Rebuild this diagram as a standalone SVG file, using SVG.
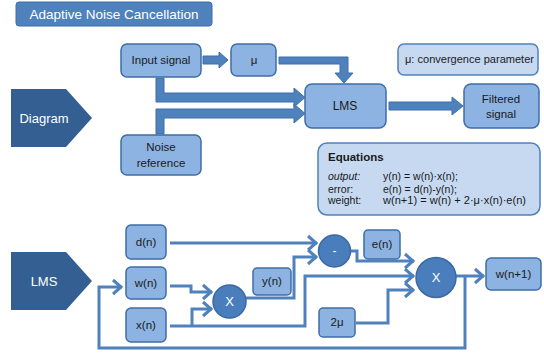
<svg xmlns="http://www.w3.org/2000/svg" width="544" height="356" viewBox="0 0 544 356">
<defs>
<style>
text{font-family:"Liberation Sans",Arial,sans-serif;fill:#1a1a1a}
.box{fill:#8db3e2;stroke:#3f6ea6;stroke-width:1.5}
.light{fill:#c6d9f1;stroke:#4f81bd;stroke-width:1.5}
.pent{fill:#335f92}
.circ{fill:#4a7dbb;stroke:#3a69a3;stroke-width:1.5}
.barrow{fill:#4f81bd;stroke:#3d6ea8;stroke-width:1}
.wire{fill:none;stroke:#4f81bd;stroke-width:3}
.w{fill:#fff}
.c{text-anchor:middle}
.eq{font-size:10.5px}
</style>
<marker id="chev" markerUnits="userSpaceOnUse" markerWidth="14" markerHeight="18" refX="11" refY="9" orient="auto">
<path d="M2,2 L10,9 L2,16" fill="none" stroke="#4f81bd" stroke-width="3"/>
</marker>
</defs>
<rect width="544" height="356" fill="#fff"/>

<g id="title">
<rect x="16" y="2" width="196" height="24" rx="3" fill="#4f81bd" stroke="#3d6ea8"/>
<text x="114" y="19" class="c w" font-size="13.5">Adaptive Noise Cancellation</text>
</g>

<g id="connectors-top">
<polygon class="barrow" points="203,56 219,56 219,52 228,60 219,68 219,64 203,64"/>
<polygon class="barrow" points="279,57 348,57 348,73 353,73 344,83 335,73 340,73 340,64 279,64"/>
<polygon class="barrow" points="156,78 164,78 164,93 294,93 294,88 305,97.5 294,107 294,102 156,102"/>
<polygon class="barrow" points="156,134 156,109 294,109 294,104 305,113.5 294,123 294,118 164,118 164,134"/>
<polygon class="barrow" points="389,102 452,102 452,97 463,106 452,115 452,110 389,110"/>
</g>

<g id="diagram-label">
<polygon class="pent" points="11,89 66,89 92,118 66,147 11,147"/>
<text x="44" y="123" class="c w" font-size="13">Diagram</text>
</g>
<g id="input-signal">
<rect class="box" x="121" y="44" width="80" height="33" rx="6"/>
<text x="161" y="64" class="c" font-size="11.5">Input signal</text>
</g>
<g id="mu">
<rect class="box" x="231" y="44" width="45" height="32" rx="6"/>
<text x="254" y="64" class="c" font-size="11.5">μ</text>
</g>
<g id="noise-reference">
<rect class="box" x="121" y="135" width="80" height="40" rx="6"/>
<text x="161" y="151" class="c" font-size="11.5">Noise</text>
<text x="161" y="167" class="c" font-size="11.5">reference</text>
</g>
<g id="lms-top">
<rect class="box" x="305" y="84" width="81" height="44" rx="7"/>
<text x="345" y="110" class="c" font-size="12">LMS</text>
</g>
<g id="filtered-signal">
<rect class="box" x="464" y="84" width="75" height="44" rx="7"/>
<text x="501" y="103" class="c" font-size="11.5">Filtered</text>
<text x="501" y="118" class="c" font-size="11.5">signal</text>
</g>
<g id="mu-note">
<rect class="light" x="398" y="44" width="140" height="31" rx="6"/>
<text x="405" y="63" font-size="10.5" textLength="129" lengthAdjust="spacingAndGlyphs">μ: convergence parameter</text>
</g>
<g id="equations">
<rect class="light" x="318" y="143" width="222" height="72" rx="9"/>
<text x="328" y="161" font-size="11.5" font-weight="bold">Equations</text>
<text x="328" y="180" class="eq" font-style="italic">output:</text>
<text x="383" y="180" class="eq">y(n) = w(n)·x(n);</text>
<text x="328" y="193" class="eq">error:</text>
<text x="383" y="193" class="eq">e(n) = d(n)-y(n);</text>
<text x="328" y="204" class="eq">weight:</text>
<text x="383" y="204" class="eq" textLength="143" lengthAdjust="spacingAndGlyphs">w(n+1) = w(n) + 2·μ·x(n)·e(n)</text>
</g>

<g id="connectors-lms">
<path class="wire" d="M170,243 H317" marker-end="url(#chev)"/>
<path class="wire" d="M170,286 H191 V292 H212" marker-end="url(#chev)"/>
<path class="wire" d="M170,326 H305 V276 H414" marker-end="url(#chev)"/>
<path class="wire" d="M192,326 V309 H212" marker-end="url(#chev)"/>
<path class="wire" d="M246,298 H294 V257 H317" marker-end="url(#chev)"/>
<path class="wire" d="M351,251 H357 V261 H414" marker-end="url(#chev)"/>
<path class="wire" d="M356,323 H388 V290 H414" marker-end="url(#chev)"/>
<path class="wire" d="M456,276 H484" marker-end="url(#chev)"/>
<path class="wire" d="M465,276 V348 H99 V287 H122" marker-end="url(#chev)"/>
</g>

<g id="lms-label">
<polygon class="pent" points="11,252 66,252 92,281 66,310 11,310"/>
<text x="44" y="286" class="c w" font-size="13">LMS</text>
</g>
<g id="dn">
<rect class="box" x="126" y="225" width="40" height="34" rx="5"/>
<text x="146" y="246" class="c" font-size="11.5">d(n)</text>
</g>
<g id="wn">
<rect class="box" x="126" y="267" width="40" height="32" rx="5"/>
<text x="146" y="287" class="c" font-size="11.5">w(n)</text>
</g>
<g id="xn">
<rect class="box" x="126" y="308" width="40" height="34" rx="5"/>
<text x="146" y="329" class="c" font-size="11.5">x(n)</text>
</g>
<g id="mult1">
<circle class="circ" cx="229.5" cy="301.5" r="16.5"/>
<text x="229.5" y="306" class="c w" font-size="13">X</text>
</g>
<g id="yn">
<rect class="box" x="253" y="268" width="38" height="27" rx="4"/>
<text x="272" y="285" class="c" font-size="11.5">y(n)</text>
</g>
<g id="minus">
<circle class="circ" cx="334.5" cy="251" r="16"/>
<text x="334.5" y="255" class="c w" font-size="12">-</text>
</g>
<g id="en">
<rect class="box" x="364" y="230" width="36" height="29" rx="4"/>
<text x="382" y="248" class="c" font-size="11.5">e(n)</text>
</g>
<g id="two-mu">
<rect class="box" x="319" y="308" width="36" height="29" rx="4"/>
<text x="337" y="326" class="c" font-size="11.5">2μ</text>
</g>
<g id="mult2">
<circle class="circ" cx="436" cy="277.5" r="20"/>
<text x="436" y="282" class="c w" font-size="13">X</text>
</g>
<g id="wn1">
<rect class="box" x="486" y="258" width="55" height="32" rx="5"/>
<text x="513.5" y="278" class="c" font-size="11.5">w(n+1)</text>
</g>
</svg>
